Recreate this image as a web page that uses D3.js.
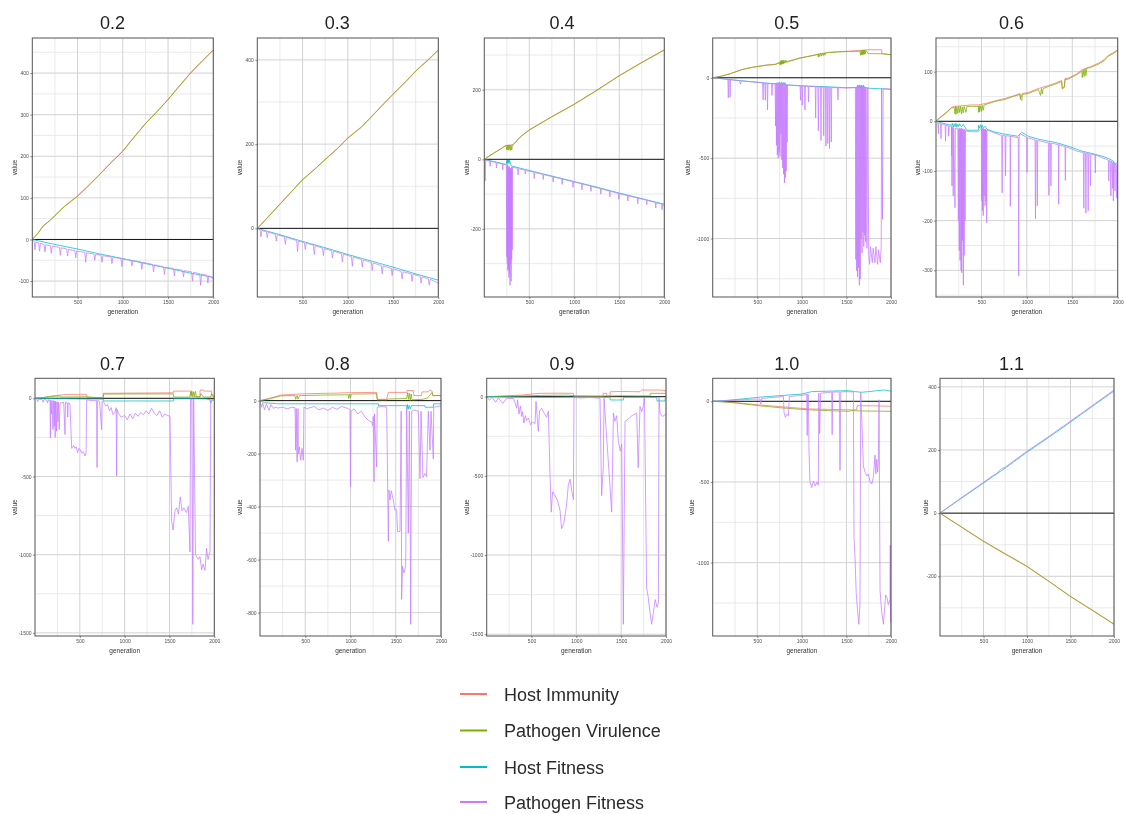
<!DOCTYPE html>
<html>
<head>
<meta charset="utf-8">
<script src="https://cdn.jsdelivr.net/npm/d3@7"></script>
<style>
  body { margin: 0; background: #fff; }
  svg { display: block; }
</style>
</head>
<body>
<svg id="chart" width="1124" height="814"></svg>
<script>
// ---- data -------------------------------------------------------------
const panelTitles = ["0.2", "0.3", "0.4", "0.5", "0.6", "0.7", "0.8", "0.9", "1.0", "1.1"];
const seriesNames = ["Host Immunity", "Pathogen Virulence", "Host Fitness", "Pathogen Fitness"];
const seriesColors = ["#F8766D", "#7CAE00", "#00BFC4", "#C77CFF"];
const yLabelStep = [100, 200, 200, 500, 100, 500, 200, 500, 500, 200];
const xTickValues = [500, 1000, 1500, 2000];
const xMinorValues = [250, 750, 1250, 1750];

// each entry: [generation, value]
const hostImmunity = [
  [[0,0],[60,15],[125,34],[200,47],[250,58],[350,79],[500,105],[600,126],[750,158],[850,181],[1000,213],[1100,240],[1250,279],[1400,313],[1500,337],[1600,363],[1750,401],[1850,424],[2000,456]],
  [[0,0],[100,23],[250,58],[400,93],[500,116],[650,144],[750,164],[900,193],[1000,215],[1150,241],[1250,263],[1400,297],[1500,319],[1650,351],[1750,374],[1900,403],[2000,424]],
  [[0,0],[100,17],[200,33],[240,40],[320,42],[400,65],[500,85],[750,123],[1000,159],[1250,199],[1500,241],[1750,279],[2000,315]],
  [[0,0],[100,11],[200,26],[325,51],[450,66],[600,79],[700,84],[850,104],[979,123],[1100,137],[1300,158],[1400,162],[1521,165],[1650,170],[1746,174],[1895,174],[1897,150],[2000,144]],
  [[0,0],[50,9],[100,16],[172,28],[200,30],[393,33],[466,33],[550,36],[650,41],[760,46],[850,51],[925,56],[930,45],[950,56],[1016,58],[1127,66],[1237,72],[1300,76],[1383,82],[1390,67],[1415,69],[1420,86],[1457,87],[1550,96],[1604,103],[1700,110],[1787,117],[1850,124],[1897,133],[1950,138],[2000,144]],
  [[0,0],[150,8],[200,15],[353,25],[576,25],[580,5],[760,5],[762,32],[1000,33],[1300,34],[1543,35],[1545,46],[1747,46],[1750,10],[1840,10],[1842,53],[1880,53],[1885,46],[1970,46],[1972,21],[2000,21]],
  [[0,0],[100,8],[230,21],[500,26],[800,28],[1000,30],[1289,31],[1295,5],[1400,5],[1418,31],[1621,31],[1625,38],[1694,38],[1700,19],[1786,19],[1790,33],[1860,33],[1880,40],[1900,36],[1910,19],[2000,19]],
  [[0,0],[200,5],[400,10],[520,18],[600,21],[800,22],[967,21],[970,2],[1200,2],[1300,3],[1301,21],[1338,21],[1340,5],[1375,5],[1378,31],[1500,33],[1710,31],[1729,42],[1900,42],[1970,40],[2000,36]],
  [[0,0],[100,-2],[250,-8],[512,-22],[800,-35],[1073,-47],[1300,-50],[1559,-53],[1615,-53],[1620,-27],[1800,-28],[2000,-31]],
  [[0,0],[250,-44],[497,-88],[750,-128],[994,-167],[1250,-215],[1492,-262],[1750,-307],[2000,-351]]
];

const pathogenVirulence = [
  [[0,0],[60,14],[125,33],[200,46],[250,57],[350,78],[500,104],[600,124],[750,157],[850,180],[1000,212],[1100,239],[1250,278],[1400,312],[1500,336],[1600,362],[1750,400],[1850,422],[2000,455]],
  [[0,0],[100,22],[250,57],[400,92],[500,115],[650,143],[750,163],[900,192],[1000,214],[1150,240],[1250,262],[1400,296],[1500,318],[1650,350],[1750,373],[1900,402],[2000,423]],
  [[0,0],[100,17],[200,33],[240,40],[250,27],[255,41],[262,26],[268,41],[275,27],[282,41],[290,26],[297,41],[305,27],[312,41],[320,42],[400,64],[500,84],[750,122],[1000,158],[1250,198],[1500,240],[1750,278],[2000,314]],
  [[0,0],[100,10],[200,25],[325,50],[450,65],[600,78],[700,82],[750,95],[755,80],[760,105],[765,82],[770,108],[775,84],[780,106],[785,86],[790,110],[795,88],[800,108],[810,90],[820,110],[830,95],[850,100],[979,122],[1100,135],[1180,145],[1185,128],[1190,150],[1200,132],[1210,152],[1220,135],[1230,153],[1240,138],[1250,155],[1260,140],[1270,155],[1300,156],[1400,160],[1521,163],[1650,165],[1660,140],[1665,170],[1670,142],[1675,172],[1680,143],[1685,172],[1690,145],[1695,173],[1700,146],[1705,173],[1710,147],[1720,170],[1746,150],[1800,150],[1900,149],[2000,143]],
  [[0,0],[50,8],[100,15],[172,27],[200,28],[210,15],[215,30],[220,14],[230,29],[240,16],[250,30],[260,18],[270,30],[280,15],[290,29],[300,17],[310,30],[330,18],[340,30],[393,30],[466,30],[470,18],[475,32],[480,19],[490,31],[500,20],[510,32],[520,22],[530,33],[550,34],[650,40],[760,44],[850,50],[925,54],[930,44],[945,42],[950,54],[1016,56],[1127,64],[1150,52],[1160,66],[1170,55],[1180,66],[1237,70],[1300,74],[1383,80],[1390,65],[1410,68],[1420,84],[1457,85],[1550,94],[1604,101],[1610,88],[1620,104],[1630,90],[1640,106],[1650,92],[1660,107],[1700,108],[1787,115],[1850,122],[1897,131],[1950,136],[2000,143]],
  [[0,0],[100,5],[150,12],[279,15],[300,8],[576,10],[700,4],[762,4],[765,27],[1000,28],[1300,28],[1543,28],[1545,8],[1729,8],[1735,42],[1740,15],[1750,44],[1760,14],[1770,42],[1780,12],[1790,45],[1800,10],[1840,8],[1850,30],[1880,8],[1960,8],[1970,30],[1980,12],[2000,12]],
  [[0,0],[100,6],[230,18],[387,19],[395,5],[410,20],[420,6],[440,20],[460,19],[700,21],[976,22],[980,8],[990,25],[1000,10],[1010,25],[1100,25],[1289,26],[1295,3],[1400,3],[1418,6],[1621,8],[1630,30],[1640,5],[1650,28],[1660,0],[1670,25],[1680,3],[1800,5],[1850,10],[1900,30],[1910,19],[2000,19]],
  [[0,0],[300,3],[600,8],[900,10],[1000,5],[1300,4],[1500,6],[1700,5],[1822,5],[1825,21],[2000,21]],
  [[0,0],[100,-3],[250,-10],[512,-27],[800,-42],[1073,-53],[1300,-58],[1520,-62],[1560,-58],[1700,-60],[2000,-62]],
  [[0,0],[250,-45],[497,-89],[750,-130],[994,-168],[1250,-216],[1492,-263],[1750,-308],[2000,-352]]
];

const hostFitness = [
  [[0,0],[250,-12],[500,-23],[750,-35],[1000,-46],[1250,-58],[1500,-69],[1750,-81],[2000,-91]],
  [[0,0],[250,-15],[500,-31],[750,-46],[1000,-62],[1250,-77],[1500,-92],[1750,-108],[2000,-123]],
  [[0,0],[100,-6],[200,-12],[245,-15],[250,-3],[255,-12],[260,-2],[265,-11],[270,-2],[275,-12],[280,-3],[290,-10],[300,-19],[500,-32],[750,-48],[1000,-64],[1250,-80],[1500,-97],[1750,-113],[2000,-129]],
  [[0,0],[100,-5],[250,-15],[500,-28],[700,-38],[750,-30],[760,-42],[770,-28],[780,-44],[790,-29],[800,-43],[810,-30],[820,-44],[850,-45],[1000,-50],[1250,-55],[1500,-62],[1620,-60],[1630,-45],[1640,-62],[1650,-44],[1660,-63],[1670,-46],[1680,-62],[1690,-47],[1700,-60],[1750,-65],[2000,-72]],
  [[0,0],[100,-5],[172,-8],[180,-4],[190,-12],[200,-5],[210,-11],[220,-4],[230,-12],[240,-6],[250,-10],[260,-5],[280,-11],[300,-6],[320,-12],[338,-18],[466,-18],[470,-8],[480,-14],[490,-7],[500,-13],[510,-8],[520,-14],[540,-10],[560,-16],[650,-22],[760,-26],[900,-30],[943,-22],[960,-24],[1016,-30],[1127,-36],[1237,-40],[1300,-42],[1383,-46],[1500,-53],[1604,-60],[1700,-64],[1824,-70],[1900,-75],[1950,-80],[1970,-86],[2000,-83]],
  [[0,0],[200,-2],[500,-4],[762,-5],[765,-17],[1000,-17],[1300,-17],[1543,-17],[1545,-3],[1750,-3],[1900,-4],[1950,-8],[1960,-32],[1975,-10],[2000,-12]],
  [[0,0],[50,-8],[200,-12],[800,-12],[1308,-12],[1310,-19],[1621,-19],[1625,-31],[1630,-15],[1640,-31],[1650,-18],[1660,-31],[1676,-19],[1823,-19],[1825,-25],[1915,-25],[1920,-12],[2000,-12]],
  [[0,0],[300,-3],[700,-5],[1000,-3],[1375,-4],[1378,-21],[1524,-21],[1527,-4],[1896,-4],[1900,-27],[1989,-27],[1992,-8],[2000,-8]],
  [[0,0],[100,3],[250,10],[512,25],[750,35],[998,45],[1110,60],[1300,63],[1521,66],[1600,60],[1671,56],[1750,60],[1914,70],[1950,68],[2000,62]],
  [[0,0],[250,48],[497,95],[750,143],[994,192],[1250,240],[1492,287],[1750,338],[2000,387]]
];

const pathogenFitness = [
  [[0,0],[20,-4],[30,-25],[40,-6],[70,-8],[80,-28],[90,-9],[130,-12],[140,-30],[150,-13],[200,-15],[210,-33],[220,-16],[300,-19],[310,-38],[320,-20],[380,-23],[390,-40],[400,-24],[470,-27],[480,-44],[490,-28],[580,-31],[590,-55],[600,-32],[680,-35],[690,-50],[700,-36],[760,-38],[770,-55],[780,-39],[870,-42],[880,-58],[890,-43],[980,-46],[990,-65],[1000,-47],[1090,-50],[1100,-64],[1110,-51],[1200,-54],[1210,-72],[1220,-55],[1330,-60],[1340,-78],[1350,-61],[1450,-66],[1460,-84],[1470,-67],[1560,-70],[1570,-88],[1580,-71],[1660,-74],[1670,-90],[1680,-75],[1760,-78],[1770,-100],[1780,-79],[1850,-82],[1860,-110],[1870,-83],[1930,-86],[1940,-105],[1950,-87],[2000,-95]],
  [[0,0],[30,-3],[40,-20],[50,-5],[100,-8],[110,-22],[120,-9],[200,-14],[210,-30],[220,-15],[300,-20],[310,-38],[320,-21],[435,-29],[445,-55],[455,-30],[520,-34],[530,-50],[540,-35],[620,-40],[630,-62],[640,-41],[720,-47],[730,-65],[740,-48],[820,-53],[830,-70],[840,-54],[930,-60],[940,-80],[950,-61],[1040,-67],[1050,-90],[1060,-68],[1150,-74],[1160,-92],[1170,-75],[1260,-81],[1270,-100],[1280,-82],[1370,-88],[1380,-108],[1390,-89],[1480,-95],[1490,-112],[1500,-96],[1590,-102],[1600,-120],[1610,-103],[1700,-108],[1710,-126],[1720,-109],[1800,-114],[1810,-130],[1820,-115],[1890,-120],[1900,-135],[1910,-121],[2000,-130]],
  [[0,0],[8,-2],[10,-62],[14,-3],[60,-5],[65,-20],[70,-6],[130,-9],[135,-25],[140,-10],[200,-13],[205,-30],[210,-14],[245,-16],[250,-280],[253,-20],[256,-300],[259,-15],[262,-320],[265,-20],[268,-315],[271,-25],[274,-340],[277,-20],[280,-330],[283,-25],[286,-362],[289,-30],[292,-300],[295,-25],[298,-350],[301,-22],[304,-290],[307,-24],[310,-260],[313,-22],[320,-23],[370,-26],[375,-45],[380,-27],[450,-31],[455,-42],[460,-32],[550,-37],[555,-55],[560,-38],[650,-43],[655,-58],[660,-44],[760,-50],[765,-65],[770,-51],[860,-56],[865,-72],[870,-57],[980,-64],[985,-80],[990,-65],[1080,-70],[1085,-88],[1090,-71],[1180,-77],[1185,-92],[1190,-78],[1290,-84],[1295,-100],[1300,-85],[1390,-91],[1395,-108],[1400,-92],[1490,-98],[1495,-115],[1500,-99],[1590,-104],[1595,-120],[1600,-105],[1700,-111],[1705,-128],[1710,-112],[1800,-117],[1805,-130],[1810,-118],[1900,-124],[1905,-140],[1910,-125],[1970,-129],[1975,-145],[1980,-130],[2000,-133]],
  [[0,0],[50,-3],[100,-6],[170,-10],[175,-126],[180,-11],[190,-12],[195,-120],[200,-12],[300,-18],[310,-40],[320,-19],[400,-23],[500,-28],[560,-31],[565,-137],[570,-32],[585,-33],[590,-140],[595,-33],[610,-35],[615,-200],[620,-36],[660,-37],[665,-110],[670,-37],[700,-38],[705,-300],[710,-35],[715,-420],[720,-32],[725,-480],[730,-35],[735,-500],[740,-33],[745,-460],[750,-34],[755,-490],[760,-38],[765,-350],[770,-36],[775,-510],[780,-40],[785,-560],[790,-38],[795,-600],[800,-40],[805,-653],[810,-42],[815,-620],[820,-40],[825,-580],[830,-44],[835,-400],[840,-45],[850,-46],[980,-50],[985,-140],[990,-50],[1000,-51],[1005,-170],[1010,-52],[1030,-52],[1035,-200],[1040,-52],[1070,-53],[1075,-150],[1080,-54],[1150,-55],[1155,-250],[1160,-55],[1180,-56],[1185,-330],[1190,-56],[1210,-57],[1215,-390],[1220,-57],[1240,-58],[1245,-360],[1250,-58],[1265,-58],[1270,-425],[1275,-59],[1285,-59],[1290,-410],[1295,-60],[1305,-60],[1310,-440],[1315,-60],[1325,-60],[1330,-400],[1335,-61],[1400,-62],[1405,-137],[1410,-62],[1500,-64],[1600,-62],[1605,-1130],[1610,-60],[1615,-1200],[1620,-55],[1625,-1240],[1630,-50],[1635,-1180],[1640,-55],[1645,-1290],[1650,-50],[1655,-1250],[1660,-55],[1665,-1000],[1670,-50],[1675,-1090],[1680,-55],[1685,-960],[1690,-50],[1695,-1050],[1700,-55],[1705,-980],[1710,-60],[1715,-1020],[1720,-60],[1730,-1060],[1740,-62],[1750,-1100],[1760,-1160],[1770,-1050],[1790,-1150],[1800,-1060],[1820,-1150],[1830,-1050],[1850,-1160],[1860,-1070],[1880,-1150],[1890,-1050],[1895,-65],[1905,-880],[1912,-66],[2000,-72]],
  [[0,0],[20,-3],[26,-25],[30,-4],[50,-5],[55,-35],[60,-5],[100,-7],[105,-40],[110,-8],[136,-9],[140,-30],[145,-9],[170,-10],[172,-70],[174,-11],[176,-130],[178,-12],[185,-12],[190,-150],[195,-14],[209,-174],[213,-14],[240,-15],[246,-200],[250,-15],[256,-260],[260,-14],[265,-280],[270,-15],[276,-300],[280,-14],[283,-305],[287,-16],[292,-240],[296,-15],[301,-330],[305,-17],[310,-270],[315,-16],[320,-200],[325,-18],[338,-20],[400,-21],[466,-21],[500,-14],[503,-160],[507,-15],[512,-180],[516,-14],[520,-190],[525,-15],[530,-150],[535,-16],[540,-170],[545,-16],[550,-160],[553,-17],[558,-204],[562,-18],[600,-20],[650,-24],[700,-27],[723,-28],[728,-144],[733,-28],[760,-29],[765,-110],[770,-29],[815,-30],[818,-171],[822,-30],[870,-32],[906,-33],[910,-311],[915,-30],[925,-25],[998,-32],[1002,-103],[1006,-33],[1050,-35],[1090,-37],[1095,-196],[1100,-38],[1110,-38],[1115,-170],[1120,-39],[1127,-39],[1200,-42],[1237,-43],[1242,-149],[1247,-43],[1260,-44],[1265,-130],[1270,-44],[1347,-47],[1350,-167],[1354,-47],[1420,-51],[1424,-119],[1428,-51],[1500,-56],[1550,-60],[1622,-63],[1627,-175],[1632,-63],[1645,-64],[1650,-185],[1655,-64],[1670,-65],[1675,-180],[1680,-65],[1695,-66],[1700,-130],[1705,-66],[1750,-68],[1754,-104],[1758,-68],[1824,-73],[1897,-78],[1902,-120],[1907,-78],[1920,-80],[1925,-150],[1930,-80],[1940,-82],[1945,-135],[1950,-82],[1952,-160],[1956,-84],[1965,-85],[1970,-140],[1975,-86],[1985,-87],[1990,-155],[1995,-88],[2000,-90]],
  [[0,0],[20,-5],[30,-21],[40,-6],[80,-8],[90,-25],[100,-8],[130,-10],[140,-30],[150,-10],[167,-12],[172,-253],[176,-12],[185,-100],[190,-14],[200,-200],[205,-15],[215,-180],[220,-16],[225,-250],[230,-20],[240,-210],[245,-22],[255,-150],[260,-25],[270,-200],[279,-30],[300,-28],[320,-25],[335,-232],[340,-25],[360,-30],[365,-120],[370,-30],[390,-35],[409,-320],[420,-316],[430,-300],[446,-320],[460,-310],[475,-348],[490,-320],[505,-330],[520,-350],[540,-340],[558,-369],[570,-350],[576,-10],[600,-12],[650,-15],[688,-15],[692,-443],[696,-15],[720,-18],[743,-200],[748,-20],[762,-21],[790,-50],[810,-40],[830,-80],[850,-60],[870,-105],[892,-90],[905,-60],[911,-496],[916,-70],[930,-95],[960,-120],[1000,-110],[1030,-137],[1060,-100],[1090,-130],[1120,-95],[1150,-115],[1180,-90],[1210,-105],[1240,-80],[1270,-100],[1300,-63],[1330,-95],[1360,-110],[1390,-80],[1420,-120],[1450,-100],[1480,-110],[1506,-115],[1524,-780],[1540,-842],[1561,-720],[1580,-700],[1600,-740],[1620,-630],[1640,-720],[1660,-700],[1690,-730],[1710,-690],[1729,-982],[1735,-5],[1750,-5],[1760,-1445],[1770,-5],[1790,-1000],[1803,-1013],[1820,-1030],[1840,-1013],[1859,-1097],[1875,-1060],[1896,-1100],[1914,-960],[1930,-1030],[1952,-980],[1960,-5],[1970,-8],[2000,-10]],
  [[0,0],[18,-25],[30,-10],[50,-35],[70,-12],[100,-37],[120,-15],[150,-30],[166,-25],[200,-28],[250,-25],[300,-31],[350,-25],[387,-27],[394,-187],[400,-30],[410,-231],[420,-30],[424,-200],[435,-175],[450,-225],[465,-180],[479,-225],[485,-25],[520,-30],[600,-22],[650,-35],[700,-28],[750,-37],[800,-25],[850,-33],[900,-22],[976,-30],[994,-35],[1000,-325],[1006,-40],[1040,-31],[1080,-50],[1120,-40],[1160,-62],[1200,-75],[1234,-81],[1245,-94],[1252,-60],[1260,-306],[1265,-50],[1289,-250],[1295,-25],[1350,-22],[1400,-25],[1418,-531],[1425,-337],[1436,-375],[1450,-340],[1473,-375],[1490,-412],[1510,-412],[1520,-494],[1547,-494],[1560,-40],[1565,-750],[1575,-625],[1590,-650],[1610,-625],[1621,-30],[1639,-500],[1650,-40],[1660,-475],[1665,-844],[1670,-460],[1676,-40],[1700,-35],[1750,-40],[1768,-294],[1780,-40],[1800,-290],[1823,-275],[1840,-287],[1860,-40],[1878,-187],[1890,-40],[1915,-220],[1920,-25],[1960,-22],[2000,-20]],
  [[0,0],[30,-21],[60,-5],[100,-35],[130,-8],[180,-42],[223,-10],[300,-12],[335,-73],[345,-20],[360,-110],[375,-60],[390,-125],[400,-94],[415,-167],[430,-120],[446,-150],[465,-135],[490,-177],[510,-160],[539,-170],[550,-31],[576,-219],[590,-90],[613,-73],[640,-104],[669,-130],[688,-90],[706,-490],[720,-729],[735,-600],[762,-625],[790,-656],[818,-719],[835,-833],[860,-800],[874,-750],[892,-677],[910,-560],[930,-521],[950,-600],[967,-650],[974,-5],[1050,-8],[1150,-5],[1264,-10],[1282,-625],[1300,-450],[1309,-10],[1394,-729],[1405,-400],[1413,-104],[1430,-156],[1450,-120],[1468,-281],[1490,-344],[1506,-300],[1524,-1437],[1543,-156],[1580,-140],[1620,-120],[1673,-104],[1690,-448],[1710,-62],[1730,-94],[1747,-60],[1760,-5],[1784,-1208],[1800,-1260],[1822,-1364],[1840,-1437],[1859,-1364],[1880,-1281],[1900,-1330],[1915,-1300],[1922,-5],[1933,-104],[1960,-125],[2000,-110]],
  [[0,0],[100,2],[250,8],[531,15],[540,-16],[550,18],[700,25],[793,30],[800,-68],[815,-99],[830,-80],[849,-90],[860,30],[961,35],[1036,40],[1054,45],[1060,-212],[1066,45],[1073,40],[1080,-300],[1090,-494],[1110,-535],[1130,-494],[1150,-525],[1170,-500],[1185,-520],[1190,50],[1200,-200],[1210,50],[1300,55],[1335,57],[1340,-206],[1345,57],[1420,58],[1428,-428],[1436,58],[1500,60],[1578,58],[1585,-840],[1596,-963],[1610,-1190],[1625,-1300],[1640,-1382],[1652,-1250],[1660,55],[1671,-92],[1690,-401],[1710,-440],[1730,-463],[1746,-450],[1765,-500],[1785,-512],[1802,-470],[1821,-333],[1830,-450],[1840,-360],[1850,-440],[1858,-380],[1866,10],[1877,-1172],[1895,-1300],[1915,-1382],[1933,-1250],[1940,-1200],[1952,-1210],[1970,-1260],[1989,-1230],[1992,-890],[1995,-1370],[1998,-900],[2000,-1370]],
  [[0,0],[250,50],[497,97],[600,118],[650,125],[700,140],[750,146],[994,195],[1250,243],[1492,290],[1750,341],[2000,390]]
];

const seriesData = [hostImmunity, pathogenVirulence, hostFitness, pathogenFitness];

// ---- layout -----------------------------------------------------------
const W = 1124, cellW = 224.8;
const plotX = [[32.3,213.3],[257.3,438.3],[484.3,664.3],[712.7,891],[936,1117.7],
               [35,214.3],[260,441],[486.7,666],[712.7,891],[940,1114]];
const rowY = [[38,297],[378.3,636]];
const titleBaseline = [28.5, 369.5];
const valueLabelX = [15,240,466.7,688,918,15,240,466.7,691.7,925.7];

const svg = d3.select("#chart");
const defs = svg.append("defs");
defs.append("filter").attr("id", "soft")
  .attr("x", "-2%").attr("y", "-2%").attr("width", "104%").attr("height", "104%")
  .append("feGaussianBlur").attr("stdDeviation", 0.45);

const root = svg.append("g").attr("filter", "url(#soft)");
root.append("rect").attr("width", W).attr("height", 814).attr("fill", "#fff");

const font = "'Liberation Sans', Arial, sans-serif";

panelTitles.forEach((title, i) => {
  const row = i < 5 ? 0 : 1, col = i % 5;
  const [x0, x1] = plotX[i];
  const [y0, y1] = rowY[row];
  const g = root.append("g");

  // y domain from the data, padded 5% each side
  let lo = Infinity, hi = -Infinity;
  seriesData.forEach(s => s[i].forEach(([, v]) => { lo = Math.min(lo, v); hi = Math.max(hi, v); }));
  const pad = (hi - lo) * 0.05;
  const x = d3.scaleLinear().domain([0, 2000]).range([x0, x1]);
  const y = d3.scaleLinear().domain([lo - pad, hi + pad]).range([y1, y0]);

  const step = yLabelStep[i];
  const [dLo, dHi] = y.domain();
  const major = d3.range(Math.ceil(dLo / step) * step, dHi + 1e-9, step);
  const half = step / 2;
  const minor = d3.range(Math.ceil(dLo / half) * half, dHi + 1e-9, half)
    .filter(v => Math.abs(v / step - Math.round(v / step)) > 1e-6);

  // panel background + grid
  g.append("rect").attr("x", x0).attr("y", y0).attr("width", x1 - x0).attr("height", y1 - y0).attr("fill", "#fff");
  g.selectAll(".ymin").data(minor).join("line")
    .attr("x1", x0).attr("x2", x1).attr("y1", d => y(d)).attr("y2", d => y(d))
    .attr("stroke", "#e4e4e4").attr("stroke-width", 0.8);
  g.selectAll(".xmin").data(xMinorValues).join("line")
    .attr("y1", y0).attr("y2", y1).attr("x1", d => x(d)).attr("x2", d => x(d))
    .attr("stroke", "#e4e4e4").attr("stroke-width", 0.8);
  g.selectAll(".ymaj").data(major).join("line")
    .attr("x1", x0).attr("x2", x1).attr("y1", d => y(d)).attr("y2", d => y(d))
    .attr("stroke", "#d2d2d2").attr("stroke-width", 1);
  g.selectAll(".xmaj").data(xTickValues).join("line")
    .attr("y1", y0).attr("y2", y1).attr("x1", d => x(d)).attr("x2", d => x(d))
    .attr("stroke", "#d2d2d2").attr("stroke-width", 1);

  // zero reference line
  g.append("line").attr("x1", x0).attr("x2", x1).attr("y1", y(0)).attr("y2", y(0))
    .attr("stroke", "#000").attr("stroke-width", 0.9);

  // series
  const clipId = "clip" + i;
  defs.append("clipPath").attr("id", clipId).append("rect")
    .attr("x", x0).attr("y", y0).attr("width", x1 - x0).attr("height", y1 - y0);
  const line = d3.line().x(d => x(d[0])).y(d => y(d[1]));
  const lg = g.append("g").attr("clip-path", `url(#${clipId})`);
  seriesData.forEach((s, k) => {
    lg.append("path").datum(s[i]).attr("d", line)
      .attr("fill", "none").attr("stroke", seriesColors[k])
      .attr("stroke-width", 0.75).attr("stroke-linejoin", "round");
  });

  // panel border
  g.append("rect").attr("x", x0).attr("y", y0).attr("width", x1 - x0).attr("height", y1 - y0)
    .attr("fill", "none").attr("stroke", "#555").attr("stroke-width", 1);

  // axes
  const yAxis = d3.axisLeft(y).tickValues(major).tickSize(2).tickPadding(1.5).tickFormat(d => String(d));
  const ya = g.append("g").attr("transform", `translate(${x0},0)`).call(yAxis);
  const xAxis = d3.axisBottom(x).tickValues(xTickValues).tickSize(2).tickPadding(1.5).tickFormat(d => String(d));
  const xa = g.append("g").attr("transform", `translate(0,${y1})`).call(xAxis);
  [ya, xa].forEach(a => {
    a.select(".domain").remove();
    a.selectAll(".tick line").attr("stroke", "#444").attr("stroke-width", 0.6);
    a.selectAll(".tick text").attr("fill", "#4d4d4d").style("font-family", font).style("font-size", "5px");
  });

  // titles
  g.append("text").attr("x", col * cellW + cellW / 2).attr("y", titleBaseline[row])
    .attr("text-anchor", "middle").attr("fill", "#222")
    .style("font-family", font).style("font-size", "18px").text(title);
  g.append("text").attr("x", (x0 + x1) / 2).attr("y", y1 + 16.5)
    .attr("text-anchor", "middle").attr("fill", "#333")
    .style("font-family", font).style("font-size", "6.5px").text("generation");
  g.append("text")
    .attr("transform", `translate(${valueLabelX[i] + 2},${(y0 + y1) / 2}) rotate(-90)`)
    .attr("text-anchor", "middle").attr("fill", "#333")
    .style("font-family", font).style("font-size", "6.5px").text("value");
});

// legend
const legend = root.append("g");
const legendY = [694, 730.5, 767, 802];
seriesNames.forEach((name, k) => {
  legend.append("line").attr("x1", 460).attr("x2", 487)
    .attr("y1", legendY[k]).attr("y2", legendY[k])
    .attr("stroke", seriesColors[k]).attr("stroke-width", 2);
  legend.append("text").attr("x", 504).attr("y", legendY[k] + 6.5)
    .attr("fill", "#2a2a2a").style("font-family", font).style("font-size", "18px").text(name);
});
</script>
</body>
</html>
